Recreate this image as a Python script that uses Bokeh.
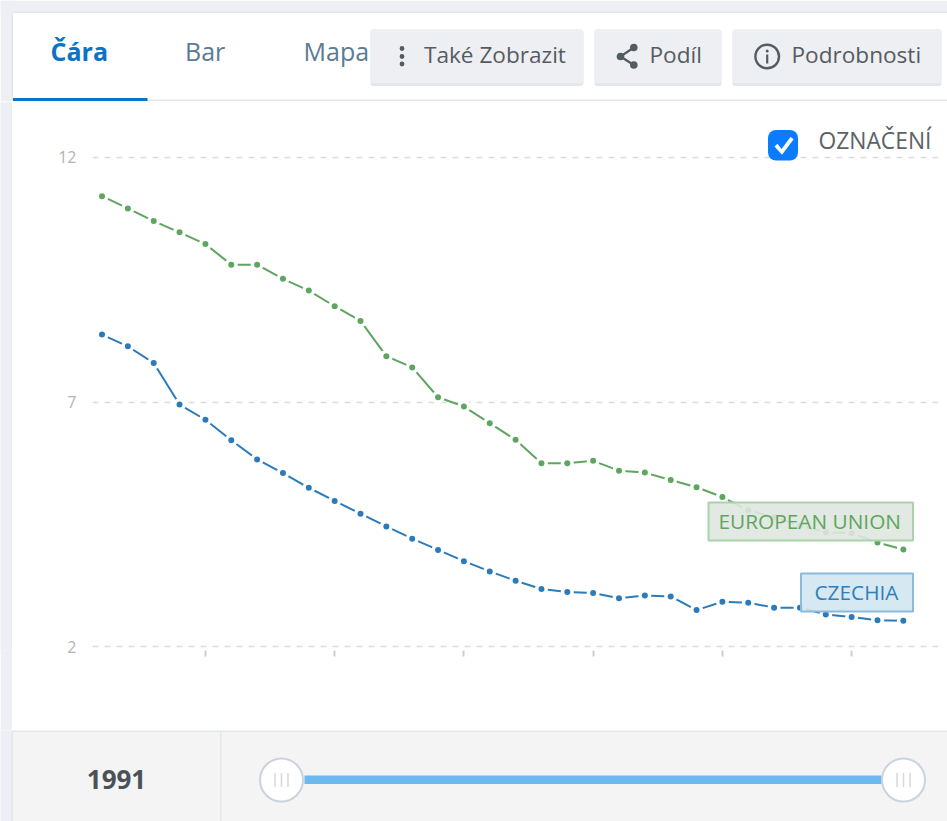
import math
from bokeh.plotting import figure
from bokeh.embed import file_html
from bokeh.layouts import column, row
from bokeh.resources import INLINE
from bokeh.models import BoxAnnotation, Label, PolyAnnotation, FixedTicker, Range1d

years = list(range(1991, 2023))
european_union = [11.21, 10.96, 10.70, 10.47, 10.23, 9.81, 9.81, 9.52, 9.28, 8.96, 8.66, 7.94, 7.71, 7.10, 6.91, 6.57,
                  6.23, 5.75, 5.75, 5.80, 5.60, 5.56, 5.41, 5.26, 5.06, 4.79, 4.65, 4.48, 4.34, 4.32, 4.13, 3.99]
czechia = [8.38, 8.14, 7.80, 6.95, 6.64, 6.22, 5.83, 5.55, 5.25, 4.98, 4.72, 4.46, 4.21, 3.98, 3.75, 3.54,
           3.35, 3.18, 3.12, 3.10, 2.99, 3.05, 3.03, 2.75, 2.92, 2.90, 2.80, 2.80, 2.66, 2.61, 2.54, 2.53]
y_ticks = [2, 7, 12]
x_ticks = [1995, 2000, 2005, 2010, 2015, 2020]
tabs = ["Čára", "Bar", "Mapa"]

GREEN, BLUE = "#5ea65f", "#2b7bba"
PAGE, BTN, SHADE, EDGE = "#eeeff4", "#eeeff3", "#e5e6ea", "#e3e7ec"
INK = "#555c61"
SLIDER_BG = "#f4f4f5"


def panel(w, h, fill):
    f = figure(width=w, height=h, output_backend="svg", toolbar_location=None,
               x_range=Range1d(0, w), y_range=Range1d(h, 0), x_axis_location=None, y_axis_location=None,
               min_border=0, background_fill_color=fill, border_fill_color=fill, outline_line_color=None)
    f.grid.visible = False
    return f


class Painter:
    """Draws interface chrome on a figure; coordinates are window pixels."""

    def __init__(self, fig, ox, oy):
        self.fig, self.ox, self.oy = fig, ox, oy

    def box(self, x0, y0, x1, y1, fill, line=None, lw=0, alpha=1.0, radius=0):
        self.fig.add_layout(BoxAnnotation(
            left=x0 - self.ox, right=x1 - self.ox, top=y0 - self.oy, bottom=y1 - self.oy,
            left_units="canvas", right_units="canvas", top_units="canvas", bottom_units="canvas",
            fill_color=fill, fill_alpha=alpha, line_color=line, line_width=lw, line_alpha=1.0,
            hatch_alpha=0, border_radius=radius, editable=False))

    def circle(self, cx, cy, r, fill, line=None, lw=0):
        self.box(cx - r, cy - r, cx + r, cy + r, fill, line, lw, radius=math.ceil(r))

    def poly(self, pts, fill, line=None, lw=0):
        self.fig.add_layout(PolyAnnotation(
            xs=[a - self.ox for a, b in pts], ys=[b - self.oy for a, b in pts],
            xs_units="canvas", ys_units="canvas", fill_color=fill, fill_alpha=1,
            line_color=line, line_width=lw, line_alpha=1))

    def text(self, x, y, s, size, color, style="normal", align="left"):
        self.fig.add_layout(Label(
            x=x - self.ox - (1 if align == "left" else 0), y=y - self.oy - 0.46 * size,
            x_units="canvas", y_units="canvas", text=s, text_font="Open Sans",
            text_font_size=f"{size}px", text_color=color, text_font_style=style,
            text_align=align, text_baseline="alphabetic"))


# ---- top strip: tabs and buttons
top = panel(947, 101, "white")
t = Painter(top, 0, 0)
t.box(0, 0, 947, 12, PAGE)
t.box(0, 0, 12, 101, PAGE)
t.box(12, 11, 947, 12.5, EDGE)
t.box(11, 12, 12.5, 101, EDGE)
t.box(12.5, 99, 947, 101, EDGE)
t.box(12.5, 97.5, 147, 101, "#0b74c4")
t.text(51, 62, tabs[0], 25, "#0b74c4", "bold")
t.text(185.5, 62, tabs[1], 25, "#5b7b94")
t.text(304, 62, tabs[2], 25, "#5b7b94")
for x0, x1 in ((370, 583), (594, 721), (732, 941)):
    t.box(x0, 29, x1, 85.5, SHADE, radius=3)
    t.box(x0, 29, x1, 82.5, BTN, radius=3)
for cy in (48, 56, 63.5):
    t.circle(401.5, cy, 2.4, INK)
t.text(424.5, 64.3, "Také Zobrazit", 22.6, INK)
t.poly([(633.3, 47), (620, 56), (633.3, 64.5), (620, 56)], INK, INK, 2.2)
for cx, cy in ((633.3, 47), (620, 56), (633.3, 64.5)):
    t.circle(cx, cy, 3.8, INK)
t.text(650, 64.3, "Podíl", 22.6, INK)
t.circle(766.7, 56, 11.8, BTN, INK, 2.4)
t.circle(766.7, 50.5, 1.5, INK)
t.box(765.6, 54, 767.8, 63, INK)
t.text(792, 64.3, "Podrobnosti", 22.6, INK)

# ---- left strip
strip = panel(12, 629, PAGE)
s = Painter(strip, 0, 101)
s.box(11, 101, 12, 730, EDGE)

# ---- chart
p = figure(width=935, height=629, output_backend="svg", toolbar_location=None,
           x_range=Range1d(1990.632, 2023.36), y_range=Range1d(1.924, 13.124),
           min_border_left=80, min_border_right=9, min_border_top=1, min_border_bottom=80,
           background_fill_color="white", border_fill_color="white", outline_line_color=None)

p.xgrid.visible = False
p.ygrid.ticker = FixedTicker(ticks=y_ticks)
p.ygrid.grid_line_color = "#dcdcdc"
p.ygrid.grid_line_width = 1.5
p.ygrid.grid_line_dash = "6 6"

p.yaxis.ticker = FixedTicker(ticks=y_ticks)
p.yaxis.axis_line_color = None
p.yaxis.major_tick_line_color = None
p.yaxis.minor_tick_line_color = None
p.yaxis.major_label_text_font = "Open Sans"
p.yaxis.major_label_text_font_size = "16px"
p.yaxis.major_label_text_color = "#b4b4b4"
p.yaxis.major_label_standoff = 10

p.xaxis.ticker = FixedTicker(ticks=x_ticks)
p.xaxis.axis_line_color = None
p.xaxis.minor_tick_line_color = None
p.xaxis.major_tick_line_color = "#cfcfcf"
p.xaxis.major_tick_line_width = 2
p.xaxis.major_tick_in = 0
p.xaxis.major_tick_out = 6
p.xaxis.major_label_overrides = {tick: "" for tick in x_ticks}

for vals, col in ((european_union, GREEN), (czechia, BLUE)):
    p.line(years, vals, line_color=col, line_width=2)
    p.scatter(years, vals, size=13, fill_color="white", line_color=None)
    p.scatter(years, vals, size=6, fill_color=col, line_color=None)

c = Painter(p, 12, 101)
c.box(767.5, 129.5, 797.5, 160, "#0a7cff", radius=8)
c.poly([(774, 146), (777, 143.3), (781, 148.5), (790, 136.5), (793.2, 138.7), (781.5, 154.3)], "white")
c.text(819, 150.8, "OZNAČENÍ", 22.8, "#5c6266")
c.box(708, 502, 912.5, 540, "#dfe7e0", "#abd3ab", 2, alpha=0.9)
c.text(719, 530, "EUROPEAN UNION", 20.8, GREEN)
c.box(800.5, 573, 912.5, 611, "#d2e6f1", "#8abadc", 2, alpha=0.9)
c.text(815, 601, "CZECHIA", 20.8, "#2f7fb9")

# ---- bottom strip: time slider
bottom = panel(947, 91, SLIDER_BG)
b = Painter(bottom, 0, 730)
b.box(0, 730, 12, 821, PAGE)
b.box(11, 730, 12.5, 821, EDGE)
b.box(12.5, 730, 947, 731.5, EDGE)
b.box(219.5, 731, 221, 821, EDGE)
b.text(116, 791, str(years[0]), 26, "#4b5257", "bold", "center")
b.box(304, 775, 881, 783.5, "#6cb9ef")
for cx in (281, 903):
    b.circle(cx, 779.5, 21.5, "white", "#c9d3de", 2)
    for dx in (-6.5, 0, 6.5):
        b.box(cx + dx - 0.8, 772.5, cx + dx + 0.8, 786.5, "#dadada")

layout = column(top, row(strip, p, spacing=0), bottom, spacing=0)
open("out.html", "w").write(file_html(layout, INLINE))
